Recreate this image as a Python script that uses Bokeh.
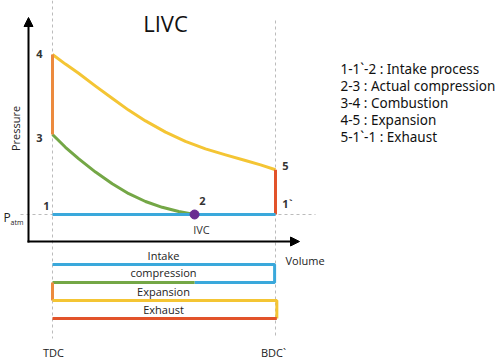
from bokeh.plotting import figure
from bokeh.models import Range1d, Arrow, NormalHead
from bokeh.core.properties import value
from bokeh.embed import file_html
from bokeh.resources import INLINE

# ---- data ----
V_TDC, V_BDC = 0.0, 1.0
P_ATM = 1.0
P3, P4, P5 = 3.0, 5.0, 2.12
V_IVC = 0.637

# expansion 4 -> 5
exp_v = [0.0, 0.058, 0.117, 0.193, 0.269, 0.341, 0.417, 0.507, 0.596, 0.686, 0.776, 0.865, 0.933, 1.0]
exp_p = [5.0, 4.76, 4.53, 4.21, 3.90, 3.61, 3.34, 3.06, 2.83, 2.64, 2.49, 2.35, 2.24, 2.12]
# actual compression 3 -> 2
comp_v = [0.0, 0.058, 0.118, 0.193, 0.268, 0.342, 0.417, 0.492, 0.566, 0.637]
comp_p = [3.0, 2.68, 2.39, 2.06, 1.77, 1.52, 1.325, 1.18, 1.075, 1.0]

legend_lines = ["1-1`-2 : Intake process", "2-3 : Actual compression",
                "3-4 : Combustion", "4-5 : Expansion", "5-1`-1 : Exhaust"]
strip_labels = ["Intake", "compression", "Expansion", "Exhaust"]

BLUE, GREEN, YELLOW, RED, ORANGE = "#3AA8DB", "#74A746", "#F4C534", "#E2532A", "#EC8A3E"
PURPLE = "#6A2C91"
FONT = value("Open Sans")

W, H = 499, 361
SX, SY = 223.0, 40.0
def X(px): return (px - 52) / SX
def Y(py): return 1 + (214 - py) / SY

p = figure(width=W, height=H, output_backend="svg", toolbar_location=None,
           x_range=Range1d(X(0), X(W)), y_range=Range1d(Y(H), Y(0)),
           min_border=0)
p.axis.visible = False
p.grid.visible = False
p.outline_line_color = None

# guide dashed lines
p.line([V_TDC, V_TDC], [Y(0), Y(338)], line_color="#BBBBBB", line_dash="3 3", line_width=1)
p.line([V_BDC, V_BDC], [Y(20), Y(338)], line_color="#BBBBBB", line_dash="3 3", line_width=1)
p.line([X(20), X(315)], [P_ATM, P_ATM], line_color="#BBBBBB", line_dash="3 3", line_width=1)

# axes with arrows
ax0x, ax0y = X(28), Y(241)
p.add_layout(Arrow(x_start=ax0x, y_start=Y(242), x_end=ax0x, y_end=Y(17),
                   line_width=2, line_color="black",
                   end=NormalHead(size=9, fill_color="black", line_color="black")))
p.add_layout(Arrow(x_start=X(27), y_start=ax0y, x_end=X(299), y_end=ax0y,
                   line_width=2, line_color="black",
                   end=NormalHead(size=9, fill_color="black", line_color="black")))

# cycle
LW = 3
p.line(exp_v, exp_p, line_color=YELLOW, line_width=LW, line_join="round")
p.line(comp_v, comp_p, line_color=GREEN, line_width=LW, line_join="round")
p.line([V_TDC, V_TDC], [P3, P4], line_color=ORANGE, line_width=LW)
p.line([V_BDC, V_BDC], [P_ATM, P5], line_color=RED, line_width=LW)
p.line([V_TDC, V_BDC], [P_ATM, P_ATM], line_color=BLUE, line_width=LW)
p.scatter([V_IVC], [P_ATM], size=9, fill_color=PURPLE, line_color=PURPLE)

# strip diagram
r1, r2, r3, r4 = Y(264), Y(282), Y(300), Y(318)
xr = V_BDC - 0.004
p.line([V_TDC, xr, xr, V_IVC], [r1, r1, r2, r2], line_color=BLUE, line_width=LW)
p.line([V_IVC, V_TDC], [r2, r2], line_color=GREEN, line_width=LW)
p.line([V_TDC, V_TDC], [r2, r3], line_color=ORANGE, line_width=LW)
xr2 = V_BDC + 0.006
p.line([V_TDC, xr2, xr2], [r3, r3, r4], line_color=YELLOW, line_width=LW)
p.line([V_TDC, xr2], [r4, r4], line_color=RED, line_width=LW)

def txt(x, y, s, size="11px", align="center", angle=0.0, font=FONT, color="#222222", style="normal"):
    p.text(x=[x], y=[y], text=[s], text_font=font, text_font_size=size,
           text_align=align, text_baseline="middle", angle=angle, text_color=color,
           text_font_style=style)

ymid = [Y(255), Y(272), Y(291), Y(309)]
for s, yy in zip(strip_labels, ymid):
    txt(X(163), yy, s, size="11px")

# labels
txt(X(165), Y(22), "LIVC", size="22px", color="#111111")
for s, (xx, yy) in [("4", (39, 53)), ("3", (39, 137)), ("1", (46, 205)), ("2", (202, 200)),
                    ("5", (285, 165)), ("1`", (287, 203))]:
    txt(X(xx), Y(yy), s, size="11px", color="#333333", style="bold")
txt(X(201), Y(229), "IVC", color="#333333")
txt(X(3), Y(217), "P", size="12px", align="left")
txt(X(10), Y(222), "atm", size="7px", align="left")
txt(X(15), Y(128), "Pressure", angle=1.5708)
txt(X(285), Y(260), "Volume", align="left")
txt(X(53), Y(352), "TDC")
txt(X(273), Y(352), "BDC`")

# legend text
for i, s in enumerate(legend_lines):
    txt(X(340), Y(68 + 17.2 * i), s, size="13.5px", align="left",
        font=value("Noto Sans"), color="#111111")

open("out.html", "w").write(file_html(p, INLINE))
